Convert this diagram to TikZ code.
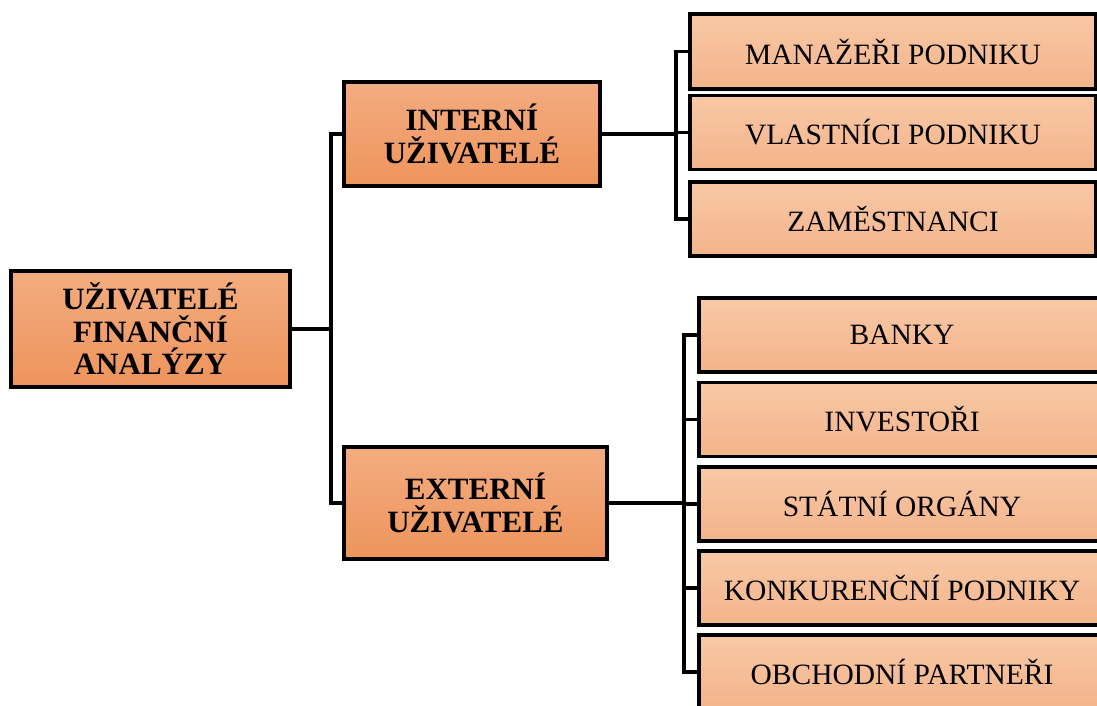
\documentclass[tikz,border=0pt]{standalone}
\usepackage{fontspec}
\setmainfont{Liberation Serif}
\usetikzlibrary{shadows}
\definecolor{mainTop}{RGB}{243,172,128}
\definecolor{mainBot}{RGB}{238,148,92}
\definecolor{leafTop}{RGB}{248,200,166}
\definecolor{leafBot}{RGB}{243,180,138}
\tikzset{
  x=1pt,y=1pt,
  boxbase/.style={draw=black, line width=3.6pt, rectangle, inner sep=0pt, align=center,
    drop shadow={shadow xshift=1.5pt, shadow yshift=-1.5pt, opacity=0.35, fill=black!60}},
  mainbox/.style={boxbase, top color=mainTop, bottom color=mainBot,
    font=\fontsize{31}{32.5}\selectfont\bfseries},
  leafbox/.style={boxbase, top color=leafTop, bottom color=leafBot,
    minimum width=406pt, minimum height=74pt, font=\fontsize{29.5}{32}\selectfont},
  conn/.style={draw=black, line width=3.6pt, line join=miter}
}
\begin{document}
\begin{tikzpicture}
\useasboundingbox (0,0) rectangle (1097,-706);
\clip (0,0) rectangle (1097,-706);
% main boxes
\node[mainbox, minimum width=279pt, minimum height=116pt] (root) at (150.5,-329) {UŽIVATELÉ\\FINANČNÍ\\ANALÝZY};
\node[mainbox, minimum width=256pt, minimum height=104pt] (int) at (472,-134) {INTERNÍ\\UŽIVATELÉ};
\node[mainbox, minimum width=263pt, minimum height=112pt] (ext) at (475.5,-503) {EXTERNÍ\\UŽIVATELÉ};
% internal leaves
\node[leafbox, minimum height=75pt] (i1) at (893,-51.5) {MANAŽEŘI PODNIKU};
\node[leafbox] (i2) at (893,-132.5) {VLASTNÍCI PODNIKU};
\node[leafbox] (i3) at (893,-219) {ZAMĚSTNANCI};
% external leaves
\node[leafbox] (e1) at (902,-335) {BANKY};
\node[leafbox] (e2) at (902,-419.5) {INVESTOŘI};
\node[leafbox] (e3) at (902,-504) {STÁTNÍ ORGÁNY};
\node[leafbox] (e4) at (902,-588) {KONKURENČNÍ PODNIKY};
\node[leafbox] (e5) at (902,-672) {OBCHODNÍ PARTNEŘI};
% trunk coordinates
\coordinate (t0) at (331,0);
\coordinate (t1) at (676,0);
\coordinate (t2) at (684,0);
% connectors
\draw[conn] (root.east) -- (root.east -| t0);
\draw[conn] (int.west) -- (int.west -| t0) |- (ext.west);
\draw[conn] (int.east) -- (int.east -| t1);
\draw[conn] (i1.west) -- (i1.west -| t1) |- (i3.west);
\draw[conn] (i2.west) -- (i2.west -| t1);
\draw[conn] (ext.east) -- (ext.east -| t2);
\draw[conn] (e1.west) -- (e1.west -| t2) |- (e5.west);
\draw[conn] (e2.west) -- (e2.west -| t2);
\draw[conn] (e3.west) -- (e3.west -| t2);
\draw[conn] (e4.west) -- (e4.west -| t2);
\end{tikzpicture}
\end{document}
